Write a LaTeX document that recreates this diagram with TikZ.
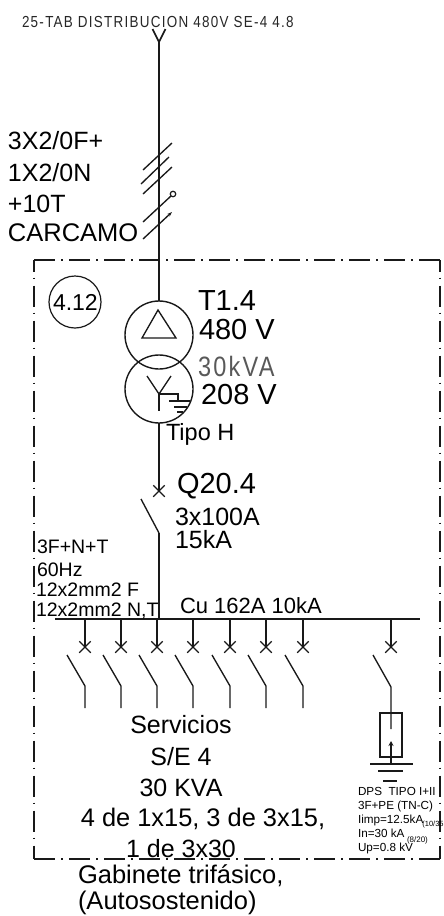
\documentclass[tikz,border=0pt]{standalone}
\usepackage{fontspec}
\usetikzlibrary{arrows.meta,shapes.misc}
\setmainfont{Liberation Sans}
\newfontfamily\simplexfont[FakeStretch=0.84,LetterSpace=8]{Liberation Sans}
\newcommand{\fs}[1]{\fontsize{#1}{#1}\selectfont}
\tikzset{
  lbl/.style={anchor=base west,inner sep=0pt,outer sep=0pt,font=\fs{#1}},
  wire/.style={line width=1.7pt,draw=black!90},
  thinw/.style={line width=1.35pt,draw=black!90},
  xmark/.style={cross out,draw=black!90,line width=1.25pt,minimum size=11.5pt,inner sep=0pt,outer sep=0pt},
  winding/.style={circle,draw=black!90,line width=1.4pt,minimum size=68pt,inner sep=0pt,outer sep=0pt},
  frameline/.style={line width=1.4pt,draw=black!90,dash pattern=on 21pt off 6pt on 1.5pt off 6.5pt,dash phase=#1},
}
\begin{document}
\begin{tikzpicture}[x=1pt,y=-1pt]
\useasboundingbox (0,0) rectangle (444,916);
% frame
\coordinate (fa) at (34,260); \coordinate (fb) at (440,260);
\coordinate (fc) at (440,859); \coordinate (fd) at (34,859);
\draw[frameline=0pt] (fa) -- (fb);
\draw[frameline=9.5pt] (fa) -- (fd);
\draw[frameline=9.5pt] (fb) -- (fc);
\draw[frameline=0pt] (fd) -- (fc);
% incoming
\node[lbl=16,text=black!85] (src) at (22,27) {\simplexfont 25-TAB DISTRIBUCION 480V SE-4 4.8};
\coordinate (vtip) at (159,42);
\coordinate (vl) at (152.5,29); \coordinate (vr) at (165.5,29);
\draw[wire] (vl) -- (vtip) -- (vr);
\node[winding] (prim) at (159,335) {};
\node[winding] (sec) at (159,389) {};
\draw[wire] (vtip) -- (prim.north);
% cable marks
\coordinate (s1a) at (143,170); \coordinate (s1b) at (172,143);
\coordinate (s2a) at (141,184); \coordinate (s2b) at (169,157);
\coordinate (s3a) at (143,194); \coordinate (s3b) at (172,167);
\coordinate (s4a) at (143,222); \coordinate (s4b) at (171,196);
\coordinate (s5a) at (143,239); \coordinate (s5b) at (172,212);
\draw[thinw] (s1a) -- (s1b); \draw[thinw] (s2a) -- (s2b); \draw[thinw] (s3a) -- (s3b);
\draw[thinw] (s4a) -- (s4b);
\node[circle,draw=black!90,line width=1.2pt,minimum size=5.5pt,inner sep=0pt] (s4c) at (173,194) {};
\draw[thinw,-{Stealth[length=5pt,width=3.5pt]}] (s5a) -- (s5b);
\node[lbl=25] (c1) at (8,149) {3X2/0F+};
\node[lbl=25] (c2) at (8,181) {1X2/0N};
\node[lbl=25] (c3) at (8,212) {+10T};
\node[lbl=25.5] (c4) at (8,241) {CARCAMO};
% reference
\node[circle,draw=black!90,line width=1.2pt,minimum size=52pt,inner sep=0pt] (ref) at (75,302) {};
\node[lbl=23] (reft) at (53,310) {4.12};
% transformer symbols
\coordinate (ta) at (158,310); \coordinate (tb) at (142,338); \coordinate (tc) at (176,338);
\draw[thinw,line join=miter] (ta) -- (tb) -- (tc) -- cycle;
\coordinate (ya) at (147,376); \coordinate (yb) at (171,376); \coordinate (yc) at (159,394); \coordinate (yd) at (159,411);
\draw[thinw] (ya) -- (yc) -- (yb); \draw[thinw] (yc) -- (yd);
\coordinate (ne) at (178,394); \coordinate (nf) at (178,401);
\draw[thinw] (yc) -- (ne) -- (nf);
\coordinate (g1a) at (169,401); \coordinate (g1b) at (190,401);
\coordinate (g2a) at (174,407); \coordinate (g2b) at (187,407);
\coordinate (g3a) at (177,412); \coordinate (g3b) at (183,412);
\draw[thinw] (g1a) -- (g1b); \draw[thinw] (g2a) -- (g2b); \draw[thinw] (g3a) -- (g3b);
\node[lbl=29] (t1) at (198,310) {T1.4};
\node[lbl=29] (t2) at (199,339) {480 V};
\node[lbl=28,text=black!65] (t3) at (198,376) {\simplexfont 30kVA};
\node[lbl=29] (t4) at (201,404) {208 V};
\node[lbl=23.5] (t5) at (166,440) {Tipo H};
% main breaker
\node[xmark] (qx) at (159,491) {};
\coordinate (qa) at (141,499); \coordinate (qb) at (159,533);
\draw[wire] (sec.south) -- (qx.center);
\draw[thinw] (qa) -- (qb);
\node[lbl=29] (q1) at (177,493) {Q20.4};
\node[lbl=25] (q2) at (175,525) {3x100A};
\node[lbl=25] (q3) at (175,548) {15kA};
% bus
\coordinate (busl) at (55,619); \coordinate (busr) at (420,619); \coordinate (busm) at (159,619);
\draw[wire] (busl) -- (busr);
\draw[wire] (qb) -- (busm);
\node[lbl=19.5] (n1) at (37,553) {3F+N+T};
\node[lbl=19.5] (n2) at (37,576) {60Hz};
\node[lbl=19.5] (n3) at (36,596) {12x2mm2 F};
\node[lbl=19.5] (n4) at (36,616) {12x2mm2 N,T};
\node[lbl=22] (bus) at (180,613) {Cu 162A 10kA};
% outgoing
\foreach \i/\x in {1/85,2/121,3/157,4/193,5/230,6/266,7/303}{
  \coordinate (t\i) at (\x,619);
  \node[xmark] (x\i) at (\x,647) {};
  \coordinate (a\i) at (\x-18,655);
  \coordinate (b\i) at (\x,686);
  \coordinate (e\i) at (\x,708);
  \draw[thinw] (t\i) -- (x\i.center);
  \draw[thinw] (a\i) -- (b\i) -- (e\i);
}
% surge protector
\coordinate (t8) at (391,619);
\node[xmark] (x8) at (391,647) {};
\coordinate (a8) at (373,655); \coordinate (b8) at (391,687); \coordinate (e8) at (391,729);
\draw[thinw] (t8) -- (x8.center);
\draw[thinw] (a8) -- (b8) -- (e8);
\node[draw=black!90,line width=1.5pt,minimum width=22pt,minimum height=44pt,inner sep=0pt] (dps) at (391,735) {};
\coordinate (ar) at (391,741); \coordinate (gnd) at (391,764);
\draw[wire,-{Stealth[length=5pt,width=5pt]}] (gnd) -- (ar);
\coordinate (h1a) at (370,764); \coordinate (h1b) at (413,764);
\coordinate (h2a) at (378,771); \coordinate (h2b) at (403,771);
\coordinate (h3a) at (383,781); \coordinate (h3b) at (397,781);
\draw[line width=1.8pt,draw=black!90] (h1a) -- (h1b);
\draw[thinw] (h2a) -- (h2b);
\draw[thinw] (h3a) -- (h3b);
\node[lbl=11.7] (d1) at (358,795) {DPS\ \ TIPO I+II};
\node[lbl=11.7] (d2) at (358,809) {3F+PE (TN-C)};
\node[lbl=11.7] (d3) at (358,823) {Iimp=12.5kA};
\node[lbl=7.5] (d3s) at (422.4,826) {(10/35};
\node[lbl=11.7] (d4) at (358,837) {In=30 kA};
\node[lbl=8] (d4s) at (407,842) {(8/20)};
\node[lbl=11.7] (d5) at (358,851) {Up=0.8 kV};
% labels below
\node[lbl=25,anchor=base] (l1) at (181,733) {Servicios};
\node[lbl=25,anchor=base] (l2) at (181,765) {S/E 4};
\node[lbl=25,anchor=base] (l3) at (181,796) {30 KVA};
\node[lbl=25.4,anchor=base] (l4) at (203,826) {4 de 1x15, 3 de 3x15,};
\node[lbl=25,anchor=base] (l5) at (181,857) {1 de 3x30};
\node[lbl=25.5] (l6) at (78,883) {Gabinete trifásico,};
\node[lbl=25.5] (l7) at (78,909) {(Autosostenido)};
\end{tikzpicture}
\end{document}
